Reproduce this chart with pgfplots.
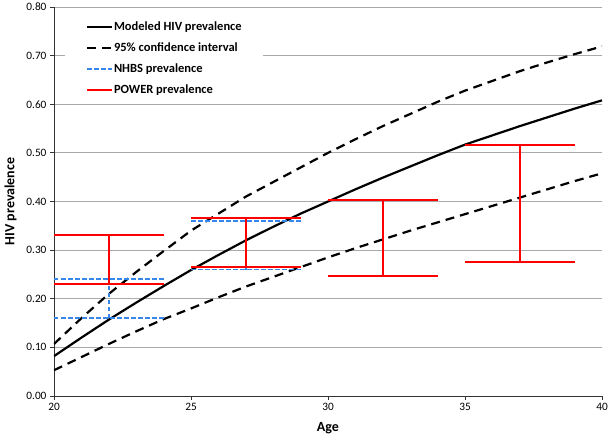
\documentclass[border=0pt]{standalone}
\usepackage{fontspec}
\setmainfont{Carlito}
\usepackage{pgfplots}
\pgfplotsset{compat=1.18}
\definecolor{nhbsblue}{RGB}{55,135,235}
\definecolor{powerred}{RGB}{255,0,0}
\definecolor{gridgray}{RGB}{170,170,170}
\begin{document}
\begin{tikzpicture}
\useasboundingbox (-54pt,-39pt) rectangle (556pt,396pt);
\begin{axis}[
  at={(0pt,0pt)}, anchor=south west,
  scale only axis, width=548pt, height=389pt,
  xmin=20, xmax=40, ymin=0, ymax=0.8,
  xtick={20,25,30,35,40},
  ytick={0,0.1,0.2,0.3,0.4,0.5,0.6,0.7,0.8},
  yticklabel style={/pgf/number format/.cd,fixed,fixed zerofill,precision=2},
  /pgf/number format/assume math mode=true,
  ymajorgrids, grid style={gridgray, line width=0.9pt},
  axis x line*=bottom, axis y line*=left,
  axis line style={black!80, line width=0.9pt},
  every tick/.style={black!80, line width=0.9pt},
  tick align=outside, major tick length=4pt,
  tick label style={font=\fontsize{11.3}{13}\selectfont},
  xlabel={\textbf{Age}}, ylabel={\textbf{HIV prevalence}},
  label style={font=\fontsize{14}{16}\selectfont},
  xlabel style={yshift=-5pt},
  ylabel style={yshift=3pt},
  legend style={at={(11pt,380pt)}, anchor=north west, draw=none, fill=white,
    font=\fontsize{12.5}{14}\bfseries\selectfont, row sep=6.6pt,
    nodes={inner xsep=0.6pt},
    inner xsep=21pt, inner ysep=4pt},
  legend cell align=left,
  legend image code/.code={\draw[#1] (0pt,0pt) -- (25pt,0pt);},
]
% Modeled
\addplot[black, line width=2.2pt] coordinates {
(20,0.082) (21,0.120) (22,0.157) (23,0.192) (24,0.226) (25,0.259) (26,0.290)
(27,0.320) (28,0.348) (29,0.375) (30,0.400) (31,0.425) (32,0.449) (33,0.472)
(34,0.495) (35,0.517) (36,0.536) (37,0.555) (38,0.573) (39,0.591) (40,0.608)};
\addlegendentry{Modeled HIV prevalence}
% Upper CI
\addplot[black, line width=2.2pt, dash pattern=on 9pt off 6pt] coordinates {
(20,0.107) (21,0.160) (22,0.210) (23,0.255) (24,0.298) (25,0.340) (26,0.375)
(27,0.410) (28,0.440) (29,0.470) (30,0.500) (31,0.528) (32,0.555) (33,0.580)
(34,0.605) (35,0.628) (36,0.648) (37,0.668) (38,0.686) (39,0.703) (40,0.719)};
\addlegendentry{95\% confidence interval}
% Lower CI
\addplot[black, line width=2.2pt, dash pattern=on 9pt off 6pt, forget plot] coordinates {
(20,0.053) (21,0.080) (22,0.107) (23,0.133) (24,0.158) (25,0.180) (26,0.203)
(27,0.225) (28,0.245) (29,0.265) (30,0.285) (31,0.304) (32,0.322) (33,0.340)
(34,0.357) (35,0.374) (36,0.391) (37,0.408) (38,0.425) (39,0.442) (40,0.458)};
% NHBS
\addplot[nhbsblue, line width=1.8pt, dash pattern=on 4.5pt off 2.5pt, unbounded coords=jump] table {
x y
20 0.240
24 0.240
nan nan
20 0.160
24 0.160
nan nan
22 0.160
22 0.240
nan nan
25 0.360
29 0.360
nan nan
25 0.260
29 0.260
nan nan
27 0.260
27 0.360
};
\addlegendentry{NHBS prevalence}
% POWER
\addplot[powerred, line width=2pt, unbounded coords=jump] table {
x y
20 0.332
24 0.332
nan nan
20 0.230
24 0.230
nan nan
22 0.230
22 0.332
nan nan
25 0.367
29 0.367
nan nan
25 0.266
29 0.266
nan nan
27 0.266
27 0.367
nan nan
30 0.403
34 0.403
nan nan
30 0.247
34 0.247
nan nan
32 0.247
32 0.403
nan nan
35 0.517
39 0.517
nan nan
35 0.276
39 0.276
nan nan
37 0.276
37 0.517
};
\addlegendentry{POWER prevalence}
\end{axis}
\end{tikzpicture}
\end{document}
